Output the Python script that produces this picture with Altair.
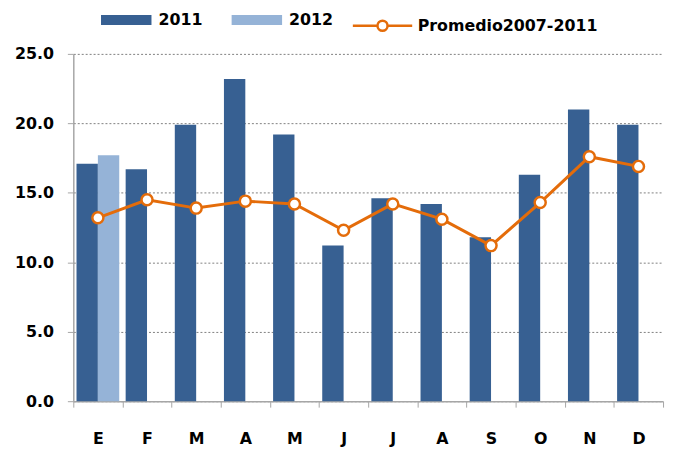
import altair as alt
import pandas as pd

# ---- data ----
meses = ["E", "F", "M", "A", "M", "J", "J", "A", "S", "O", "N", "D"]
serie_2011 = [17.1, 16.7, 19.9, 23.2, 19.2, 11.2, 14.6, 14.2, 11.8, 16.3, 21.0, 19.9]
serie_2012 = [17.7]  # only January available
promedio = [13.2, 14.5, 13.9, 14.4, 14.2, 12.3, 14.2, 13.1, 11.2, 14.3, 17.6, 16.9]
y_ticks = [0, 5, 10, 15, 20, 25]
series_barras = ["2011", "2012"]
serie_linea = "Promedio2007-2011"

# ---- tables ----
rows = []
for i, v in enumerate(serie_2011):
    rows.append({"idx": i, "serie": "2011", "valor": v})
for i, v in enumerate(serie_2012):
    rows.append({"idx": i, "serie": "2012", "valor": v})
bars_df = pd.DataFrame(rows)
prom_df = pd.DataFrame({"idx": list(range(len(promedio))), "serie": serie_linea, "valor": promedio})

FONT = "DejaVu Sans"
GREY = "#a6a6a6"
ORANGE = "#E46C0A"
label_expr = "[" + ",".join("'%s'" % m for m in meses) + "][datum.value]"

x_enc = alt.X(
    "idx:O",
    scale=alt.Scale(paddingInner=0, paddingOuter=0),
    axis=alt.Axis(
        title=None, labelExpr=label_expr, labelAngle=0, tickBand="extent",
        tickSize=6, tickColor=GREY, domainColor=GREY, domainWidth=1.5,
        labelPadding=24, labelFont=FONT, labelFontSize=16, labelFontWeight="bold",
        labelColor="black", grid=False,
    ),
)
y_enc = alt.Y(
    "valor:Q",
    scale=alt.Scale(domain=[0, 25], nice=False, zero=True),
    axis=alt.Axis(
        title=None, values=y_ticks, format=".1f", grid=True, gridDash=[2, 2],
        gridColor="#7f7f7f", gridWidth=1, tickSize=6, tickColor=GREY,
        domainColor=GREY, domainWidth=1.5, labelPadding=14, labelFont=FONT,
        labelFontSize=16, labelFontWeight="bold", labelColor="black",
    ),
)

bars = alt.Chart(bars_df).mark_bar().encode(
    x=x_enc,
    xOffset=alt.XOffset("serie:N", scale=alt.Scale(domain=series_barras, paddingInner=0, paddingOuter=0.15)),
    y=y_enc,
    color=alt.Color(
        "serie:N",
        scale=alt.Scale(domain=series_barras, range=["#376092", "#95B3D7"]),
        legend=alt.Legend(
            title=None, orient="none", legendX=28, legendY=-60, direction="horizontal",
            symbolType="M-1,-0.2H1V0.2H-1Z", symbolSize=2601, symbolStrokeWidth=0,
            labelFont=FONT, labelFontSize=16, labelFontWeight="bold", labelColor="black",
            labelOffset=7, columnPadding=29, labelLimit=0,
        ),
    ),
)

line = alt.Chart(prom_df).mark_line(strokeWidth=3).encode(
    x=alt.X("idx:O"),
    y=alt.Y("valor:Q"),
    stroke=alt.Stroke(
        "serie:N",
        scale=alt.Scale(domain=[serie_linea], range=[ORANGE]),
        legend=alt.Legend(
            title=None, orient="none", legendX=281, legendY=-60,
            symbolType="M-1,0H-0.17M0.17,0H1M-0.17,0A0.17,0.17 0 1,1 0.17,0A0.17,0.17 0 1,1 -0.17,0",
            symbolSize=3600, symbolStrokeWidth=2.5, symbolFillColor="white",
            labelFont=FONT, labelFontSize=16, labelFontWeight="bold", labelColor="black",
            labelOffset=4, labelLimit=0,
        ),
    ),
)

points = alt.Chart(prom_df).mark_point(filled=True, fill="white", size=125, strokeWidth=2.5, opacity=1).encode(
    x=alt.X("idx:O"),
    y=alt.Y("valor:Q"),
    stroke=alt.Stroke("serie:N"),
)

chart = (
    alt.layer(bars, line, points)
    .properties(width=596, height=351, autosize="none",
                padding={"left": 66, "top": 44, "right": 4, "bottom": 52})
    .configure_view(stroke=None)
    .configure_legend(padding=0)
)

chart.save("out.html", embed_options={"renderer": "svg", "actions": False})
